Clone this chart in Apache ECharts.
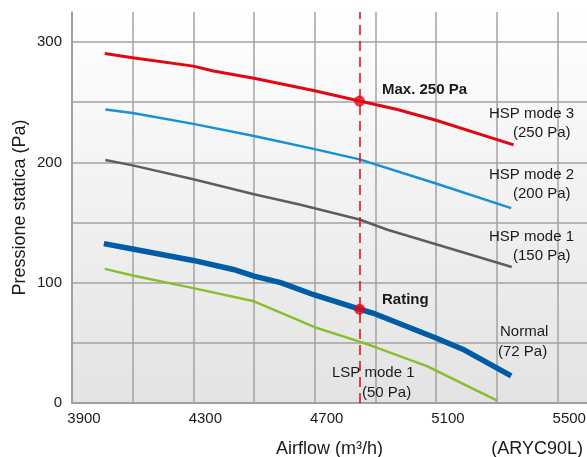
<!DOCTYPE html>
<html><head><meta charset="utf-8">
<script src="https://cdn.jsdelivr.net/npm/echarts@6/dist/echarts.min.js"></script>
<style>html,body{margin:0;padding:0;background:#fff}#c{width:587px;height:457px}</style>
</head><body><div id="c"></div><script>
// ---- data ----
const xTickLabels = [3900, 4300, 4700, 5100, 5500];
const yTickLabels = [0, 100, 200, 300];
const seriesNames = ['HSP mode 3', 'HSP mode 2', 'HSP mode 1', 'Normal', 'LSP mode 1'];
const hsp3 = [[4008,290.5],[4100,287],[4300,280],[4366,276],[4500,270],[4700,259.5],[4848,251],[4973,244],[5100,235],[5356,214.5]];
const hsp2 = [[4010,244],[4100,241],[4300,232],[4500,222],[4700,211],[4848,202.5],[5100,182.5],[5348,162]];
const hsp1 = [[4010,202],[4100,197.5],[4300,186],[4500,173.5],[4650,165],[4848,152.5],[4940,144],[5100,132],[5350,113]];
const normal = [[4005,132.5],[4100,128],[4300,118.5],[4432,111],[4500,105.5],[4588,100],[4697,90],[4848,78],[4900,74],[5100,54],[5194,44],[5348,22.5]];
const lsp1 = [[4008,111.5],[4100,106],[4300,95.5],[4500,84.5],[4700,63],[4848,51],[4900,46.5],[5072,30.5],[5302,2]];
const ratingAirflow = 4848;
const markers = [[4848,251],[4848,78]];
const annotations = [
  {text:'Max. 250 Pa', x:382, y:90, bold:true},
  {text:'Rating', x:382, y:300, bold:true},
  {text:'HSP mode 3', x:489, y:114}, {text:'(250 Pa)', x:513, y:133},
  {text:'HSP mode 2', x:489, y:175}, {text:'(200 Pa)', x:513, y:194},
  {text:'HSP mode 1', x:489, y:237}, {text:'(150 Pa)', x:513, y:256},
  {text:'Normal', x:500, y:332}, {text:'(72 Pa)', x:498, y:352},
  {text:'LSP mode 1', x:332, y:373}, {text:'(50 Pa)', x:362, y:393}
];

const FONT = '"Liberation Sans", Arial, sans-serif';
const colors = ['#e30613', '#1690d6', '#5e5e5e', '#005ca6', '#86bf2f'];
const widths = [3, 2.5, 2.5, 5.5, 2.5];
const datasets = [hsp3, hsp2, hsp1, normal, lsp1];

const chart = echarts.init(document.getElementById('c'), null, {renderer:'canvas'});
const series = datasets.map((d, i) => ({
  name: seriesNames[i], type: 'line', data: d, showSymbol: false, smooth: false,
  lineStyle: {color: colors[i], width: widths[i], cap: 'butt'}, z: 3 + (i === 3 ? 1 : 0), silent: true
}));
series.push({
  type: 'scatter', data: markers, symbolSize: 11, itemStyle: {color: '#e30613'}, z: 10,
  markLine: {silent: true, symbol: 'none', label: {show: false},
    lineStyle: {color: '#e30613', type: [10, 6], width: 1.5},
    data: [{xAxis: ratingAirflow}]}
});

const gridGrad = new echarts.graphic.LinearGradient(0, 0, 0, 1, [
  {offset: 0, color: '#ffffff'}, {offset: 1, color: '#e3e3e3'}
]);

chart.setOption({
  animation: false,
  backgroundColor: '#ffffff',
  textStyle: {fontFamily: FONT},
  grid: {left: 72, right: 0, top: 12, bottom: 54, show: true, borderWidth: 0, backgroundColor: gridGrad,
    containLabel: false, outerBoundsMode: 'none'},
  xAxis: {
    type: 'value', min: 3900, max: 5598, interval: 200,
    name: 'Airflow (m³/h)', nameLocation: 'middle', nameGap: 37, nameMoveOverlap: false,
    nameTextStyle: {fontSize: 18, color: '#1a1a1a', fontFamily: FONT},
    axisLine: {show: true, lineStyle: {color: '#9a9a9a', width: 1.5}},
    axisTick: {show: false},
    splitLine: {show: true, showMaxLine: false, lineStyle: {color: '#a3a3a3', width: 1.5}},
    axisLabel: {fontSize: 15, color: '#1a1a1a', fontFamily: FONT, margin: 8, padding: [0,0,0,24],
      showMaxLabel: false,
      formatter: v => xTickLabels.includes(v) ? String(v) : ''}
  },
  yAxis: {
    type: 'value', min: 0, max: 325, interval: 50,
    name: 'Pressione statica (Pa)', nameLocation: 'middle', nameGap: 43, nameMoveOverlap: false,
    nameTextStyle: {fontSize: 18, color: '#1a1a1a', fontFamily: FONT},
    axisLine: {show: true, lineStyle: {color: '#9a9a9a', width: 1.5}},
    axisTick: {show: false},
    splitLine: {show: true, showMaxLine: false, lineStyle: {color: '#a3a3a3', width: 1.5}},
    axisLabel: {fontSize: 15, color: '#1a1a1a', fontFamily: FONT, margin: 10, padding: [0,0,12,0],
      showMaxLabel: false,
      formatter: v => yTickLabels.includes(v) ? String(v) : ''}
  },
  graphic: annotations.map(a => ({
    type: 'text', x: a.x, y: a.y, z: 20, silent: true,
    style: {text: a.text, fill: '#1a1a1a', font: (a.bold ? 'bold ' : '') + '15px ' + FONT,
      verticalAlign: 'middle', textVerticalAlign: 'middle', align: 'left'}
  })).concat([{
    type: 'text', x: 583, y: 449, z: 20, silent: true,
    style: {text: '(ARYC90L)', fill: '#1a1a1a', font: '18px ' + FONT, align: 'right', textAlign: 'right',
      verticalAlign: 'middle', textVerticalAlign: 'middle'}
  }]),
  series: series
});
</script></body></html>
